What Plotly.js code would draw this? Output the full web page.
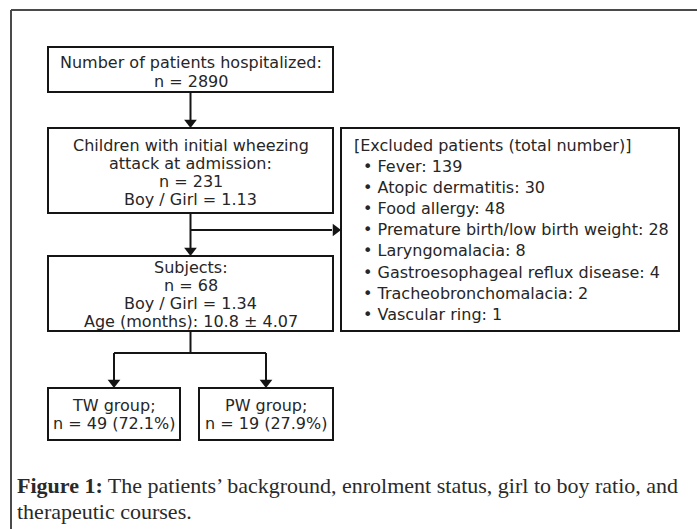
<!DOCTYPE html>
<html><head><meta charset="utf-8">
<script src="https://cdn.plot.ly/plotly-3.0.1.min.js"></script>
<style>html,body{margin:0;padding:0;background:#fff}</style>
</head><body><div id="chart" style="width:697px;height:529px"></div>
<script>
// ---- content ----
const hospitalizedLines = ["Number of patients hospitalized:", "n = 2890"];
const wheezingLines = ["Children with initial wheezing", "attack at admission:", "n = 231", "Boy / Girl = 1.13"];
const subjectLines = ["Subjects:", "n = 68", "Boy / Girl = 1.34", "Age (months): 10.8 \u00b1 4.07"];
const excludedTitle = "[Excluded patients (total number)]";
const excludedCauses = ["Fever", "Atopic dermatitis", "Food allergy", "Premature birth/low birth weight", "Laryngomalacia", "Gastroesophageal reflux disease", "Tracheobronchomalacia", "Vascular ring"];
const excludedCounts = [139, 30, 48, 28, 8, 4, 2, 1];
const groupNames = ["TW group;", "PW group;"];
const groupCounts = [49, 19];
const groupPercents = [72.1, 27.9];
const captionLabel = "Figure 1:";
const captionLines = ["The patients\u2019 background, enrolment status, girl to boy ratio, and", "therapeutic courses."];

// ---- geometry (pixel coordinates of the drawing) ----
const W = 697, H = 529;
const ink = "#151515", txt = "#262626";
const sans = "DejaVu Sans, sans-serif";
const serif = "Liberation Serif, serif";
const B1 = {x0:48, x1:333, y0:47, y1:92};
const B2 = {x0:48, x1:333, y0:128, y1:213};
const B3 = {x0:48, x1:333, y0:256, y1:331};
const BX = {x0:341, x1:679, y0:128, y1:331};
const BT = {x0:48, x1:180, y0:388, y1:440};
const BP = {x0:199, x1:333, y0:388, y1:440};
const cx = 190.5;

const shapes = [];
function rect(b){ shapes.push({type:'rect', xref:'x', yref:'y', x0:b.x0, x1:b.x1, y0:b.y0, y1:b.y1, line:{color:ink, width:2}, fillcolor:'rgba(0,0,0,0)'}); }
function seg(x0,y0,x1,y1,c,w){ shapes.push({type:'line', xref:'x', yref:'y', x0, y0, x1, y1, line:{color:c||ink, width:w||2}}); }
[B1,B2,B3,BX,BT,BP].forEach(rect);
// outer frame (top + left)
seg(11, 10, W, 10, '#4a4a4a', 2);
seg(11, 10, 11, H, '#4a4a4a', 2);
// connectors
const tw = (BT.x0+BT.x1)/2, pw = (BP.x0+BP.x1)/2;
seg(cx, B1.y1, cx, B2.y0-8);
seg(cx, B2.y1, cx, B3.y0-8);
const branchY = 230;
seg(cx, branchY, BX.x0-9, branchY);
const splitY = 353;
seg(cx, B3.y1, cx, splitY);
seg(tw, splitY, pw, splitY);
seg(tw, splitY, tw, BT.y0-8);
seg(pw, splitY, pw, BP.y0-8);

const ms = 11;
const heads = {
  type:'scatter', mode:'markers', hoverinfo:'skip', showlegend:false,
  x:[cx, cx, tw, pw], y:[B2.y0-ms/2, B3.y0-ms/2, BT.y0-ms/2, BP.y0-ms/2],
  marker:{symbol:'triangle-down', size:ms, color:ink, line:{width:0}}
};
const headR = {
  type:'scatter', mode:'markers', hoverinfo:'skip', showlegend:false,
  x:[BX.x0-ms/2], y:[branchY],
  marker:{symbol:'triangle-right', size:ms, color:ink, line:{width:0}}
};

const ann = [];
function centered(lines, xc, ys){
  lines.forEach((t,i)=>ann.push({xref:'x', yref:'y', x:xc, y:ys[i], text:t, showarrow:false, xanchor:'center', yanchor:'middle', font:{family:sans, size:16, color:txt}}));
}
centered(hospitalizedLines, cx, [62, 81]);
centered(wheezingLines, cx, [145, 163, 181, 199]);
centered(subjectLines, cx, [267, 285, 303, 321]);
centered([groupNames[0], `n = ${groupCounts[0]} (${groupPercents[0]}%)`], tw, [405, 423]);
centered([groupNames[1], `n = ${groupCounts[1]} (${groupPercents[1]}%)`], pw, [405, 423]);

ann.push({xref:'x', yref:'y', x:352, y:145, text:excludedTitle, showarrow:false, xanchor:'left', yanchor:'middle', font:{family:sans, size:16, color:txt}});
excludedCauses.forEach((c,i)=>{
  ann.push({xref:'x', yref:'y', x:361, y:166.5+i*21.1, text:`\u2022 ${c}: ${excludedCounts[i]}`, showarrow:false, xanchor:'left', yanchor:'middle', font:{family:sans, size:16, color:txt}});
});

ann.push({xref:'x', yref:'y', x:15, y:485, text:`<b>${captionLabel}</b> ${captionLines[0]}`, showarrow:false, xanchor:'left', yanchor:'middle', font:{family:serif, size:22, color:'#2a2a2a'}});
ann.push({xref:'x', yref:'y', x:15, y:511, text:captionLines[1], showarrow:false, xanchor:'left', yanchor:'middle', font:{family:serif, size:22, color:'#2a2a2a'}});

const layout = {
  width:W, height:H, margin:{l:0, r:0, t:0, b:0},
  paper_bgcolor:'#fff', plot_bgcolor:'#fff', showlegend:false,
  xaxis:{range:[0,W], visible:false, fixedrange:true},
  yaxis:{range:[H,0], visible:false, fixedrange:true},
  shapes, annotations:ann
};
Plotly.newPlot('chart', [heads, headR], layout, {staticPlot:true, displayModeBar:false});
</script></body></html>
